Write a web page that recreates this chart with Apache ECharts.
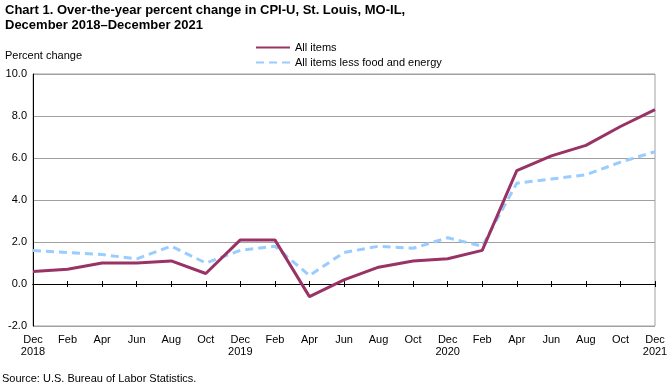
<!DOCTYPE html>
<html>
<head>
<meta charset="utf-8">
<script src="https://cdn.jsdelivr.net/npm/echarts@6/dist/echarts.min.js"></script>
<style>
html,body{margin:0;padding:0;background:#fff;}
#chart{width:672px;height:385px;}
</style>
</head>
<body>
<div id="chart"></div>
<script>
var categories = ['Dec\n2018','Feb','Apr','Jun','Aug','Oct','Dec\n2019','Feb','Apr','Jun','Aug','Oct','Dec\n2020','Feb','Apr','Jun','Aug','Oct','Dec\n2021'];
var allItems = [0.6,0.7,1.0,1.0,1.1,0.5,2.1,2.1,-0.6,0.2,0.8,1.1,1.2,1.6,5.4,6.1,6.6,7.5,8.3];
var coreItems = [1.6,1.5,1.4,1.2,1.8,1.0,1.6,1.8,0.4,1.5,1.8,1.7,2.2,1.8,4.8,5.0,5.2,5.8,6.3];
var yTicks = [-2, 0, 2, 4, 6, 8, 10];
var seriesNames = ['All items', 'All items less food and energy'];

var FONT = '"Liberation Sans", Arial, sans-serif';
var chart = echarts.init(document.getElementById('chart'), null, {renderer: 'canvas'});
var hiddenAxis = function (pos) {
  return {
    type: 'category', data: categories, boundaryGap: false, position: pos,
    axisLine: {show: true, onZero: true, onZeroAxisIndex: 0, lineStyle: {color: '#000', width: 1}},
    axisTick: {show: true, inside: false, length: 3, interval: 0, lineStyle: {color: '#000', width: 1}},
    axisLabel: {show: false}, splitLine: {show: false}
  };
};
chart.setOption({
  animation: false,
  title: {
    text: 'Chart 1. Over-the-year percent change in CPI-U, St. Louis, MO-IL,\nDecember 2018\u2013December 2021',
    left: 0, top: -2,
    textStyle: {fontFamily: FONT, fontSize: 13, fontWeight: 'bold', color: '#000', lineHeight: 15}
  },
  legend: {
    orient: 'vertical', left: 250, top: 37, itemWidth: 34, itemHeight: 10, itemGap: 4,
    data: seriesNames,
    itemStyle: {opacity: 0},
    textStyle: {fontFamily: FONT, fontSize: 11, color: '#000'}
  },
  graphic: [
    {type: 'text', left: 5, top: 50, style: {text: 'Percent change', font: '11px ' + FONT, fill: '#000'}},
    {type: 'text', left: 2, top: 373, style: {text: 'Source: U.S. Bureau of Labor Statistics.', font: '11px ' + FONT, fill: '#000'}}
  ],
  grid: {left: 33, right: 17, top: 74, bottom: 59, show: true, borderColor: '#A0A0A0', borderWidth: 1},
  xAxis: [
    {
      type: 'category', data: categories, boundaryGap: false, position: 'bottom',
      axisLine: {show: false, onZero: false}, axisTick: {show: false},
      axisLabel: {interval: 0, fontFamily: FONT, fontSize: 11, color: '#000', margin: 8, lineHeight: 12},
      splitLine: {show: false}
    },
    hiddenAxis('bottom'),
    hiddenAxis('top')
  ],
  yAxis: {
    type: 'value', min: yTicks[0], max: yTicks[yTicks.length - 1], interval: 2,
    axisLine: {show: true, lineStyle: {color: '#000', width: 1}},
    axisTick: {show: false},
    axisLabel: {formatter: function (v) { return v.toFixed(1); }, fontFamily: FONT, fontSize: 11, color: '#000', margin: 6},
    splitLine: {show: true, lineStyle: {color: '#A0A0A0', width: 1}}
  },
  series: [
    {name: seriesNames[0], type: 'line', data: allItems, symbol: 'none', z: 3,
     lineStyle: {color: '#993366', width: 3}, itemStyle: {color: '#993366'}},
    {name: seriesNames[1], type: 'line', data: coreItems, symbol: 'none', z: 2,
     lineStyle: {color: '#99CCFF', width: 3, type: [8, 5]}, itemStyle: {color: '#99CCFF'}}
  ]
});
</script>
</body>
</html>
